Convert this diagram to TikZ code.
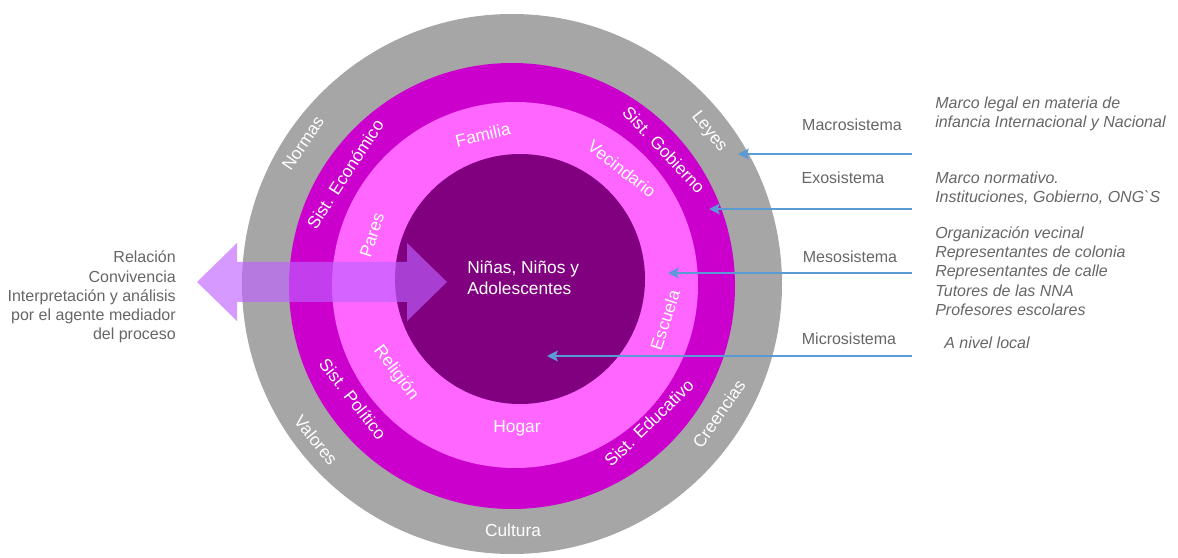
\documentclass[tikz,border=0pt]{standalone}
\usepackage{fontspec}
\setmainfont{Liberation Sans}
\newfontfamily\rawsans{Liberation Sans}[Ligatures=TeXOff]
\usepackage{xcolor}
\usepackage{tikz}
\usetikzlibrary{arrows.meta}

\definecolor{ringgray}{HTML}{A6A6A6}
\definecolor{ringmag}{HTML}{CC00CC}
\definecolor{ringpink}{HTML}{FF66FF}
\definecolor{ringdark}{HTML}{800080}
\definecolor{arrowblue}{HTML}{5B9BD5}
\definecolor{textgray}{HTML}{666666}
\definecolor{bigarrow}{RGB}{191,98,255}

\begin{document}
\begin{tikzpicture}[x=0.75pt, y=0.75pt,
  ringlbl/.style={text=white, font=\fontsize{13}{15.75}\selectfont, inner sep=0pt},
  syslbl/.style={text=textgray, font=\fontsize{12}{14.4}\selectfont},
  notelbl/.style={text=textgray, font=\fontsize{12}{14.4}\selectfont\itshape, anchor=west, align=left, inner sep=0pt},
  pointer/.style={-{Stealth[length=8pt,width=8pt,inset=1.5pt]}, line width=1.5pt, arrowblue}]
\useasboundingbox (0,0) rectangle (1178,557);

% Concentric systems
\fill[ringgray] (512,273) circle (270);
\fill[ringmag] (512,271) circle (223);
\fill[ringpink] (515,272) circle (183);
\fill[ringdark] (520,278) circle (125);

% Macrosystem labels
\node[ringlbl, rotate=56] (normas) at (303,414) {Normas};
\node[ringlbl, rotate=-52] (leyes) at (709,425) {Leyes};
\node[ringlbl, rotate=-51] (valores) at (316,117) {Valores};
\node[ringlbl, rotate=55] (creencias) at (719,143) {Creencias};
\node[ringlbl] (cultura) at (513,27) {Cultura};

% Exosystem labels
\node[ringlbl, rotate=57] (economico) at (345,383) {Sist. Económico};
\node[ringlbl, rotate=-47] (gobierno) at (664,407) {Sist. Gobierno};
\node[ringlbl, rotate=-52] (politico) at (353,158) {Sist. Político};
\node[ringlbl, rotate=44] (educativo) at (649,134) {Sist. Educativo};

% Mesosystem labels
\node[ringlbl, rotate=13] (familia) at (483,422) {Familia};
\node[ringlbl, rotate=-38] (vecindario) at (622,388) {Vecindario};
\node[ringlbl, rotate=72] (pares) at (372,322) {Pares};
\node[ringlbl, rotate=72] (escuela) at (665,237) {Escuela};
\node[ringlbl, rotate=-53] (religion) at (396,184) {Religión};
\node[ringlbl] (hogar) at (517,129) {Hogar};

% Two-way relation arrow
\fill[bigarrow, fill opacity=0.65] (197,275) -- (237,314) -- (237,295) -- (407,295) -- (407,314)
  -- (447,275) -- (407,236) -- (407,255) -- (237,255) -- (237,236) -- cycle;

% Microsystem
\node[ringlbl, anchor=west, align=left] (ninos) at (467,279) {Niñas, Niños y\\Adolescentes};

\node[syslbl, anchor=east, align=right, inner sep=0pt] (relacion) at (176,260)
  {Relación\\Convivencia\\Interpretación y análisis\\por el agente mediador\\del proceso};

% System names and pointers
\node[syslbl] (macro) at (852,432) {Macrosistema};
\node[syslbl] (exo) at (843,379) {Exosistema};
\node[syslbl] (meso) at (850,300) {Mesosistema};
\node[syslbl] (micro) at (849,218) {Microsistema};

\coordinate (macroIn) at (912,403);
\coordinate (macroTip) at (738,403);
\coordinate (exoIn) at (912,348);
\coordinate (exoTip) at (709,348);
\coordinate (mesoIn) at (912,284);
\coordinate (mesoTip) at (668,284);
\coordinate (microIn) at (912,201);
\coordinate (microTip) at (547,201);

\draw[pointer] (macroIn) -- (macroTip);
\draw[pointer] (exoIn) -- (exoTip);
\draw[pointer] (mesoIn) -- (mesoTip);
\draw[pointer] (microIn) -- (microTip);

% Descriptions
\node[notelbl] (macroTxt) at (935,443) {Marco legal en materia de\\infancia Internacional y Nacional};
\node[notelbl] (exoTxt) at (935,369) {Marco normativo.\\Instituciones, Gobierno, ONG{\rawsans\itshape\symbol{96}}S};
\node[notelbl] (mesoTxt) at (935,286) {Organización vecinal\\Representantes de colonia\\Representantes de calle\\Tutores de las NNA\\Profesores escolares};
\node[notelbl] (microTxt) at (944,214) {A nivel local};

\end{tikzpicture}
\end{document}
